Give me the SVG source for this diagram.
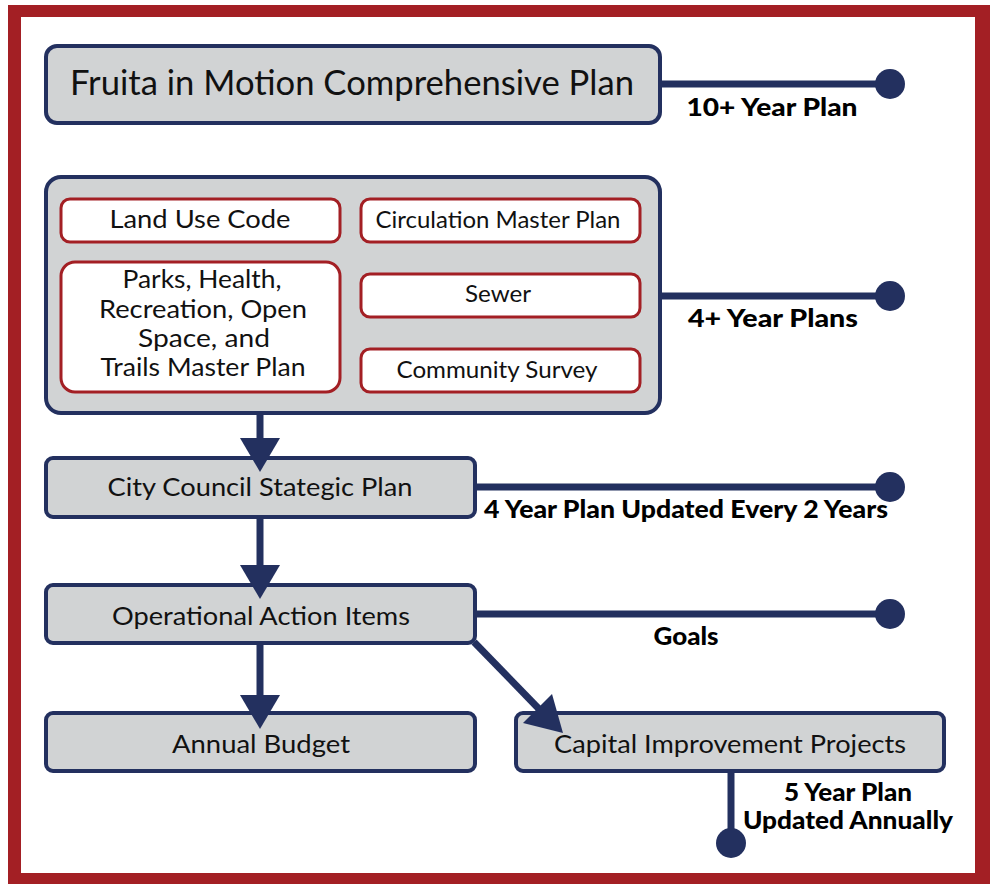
<svg xmlns="http://www.w3.org/2000/svg" width="993" height="884" viewBox="0 0 993 884">
<style>
.box{fill:#D1D3D4;stroke:#23305F;stroke-width:4}
.sub{fill:#FFFFFF;stroke:#A31F24;stroke-width:3}
.t{font-family:Lato,"Open Sans","Liberation Sans",sans-serif;fill:#111;text-anchor:middle}
.lbl{font-family:Lato,"Liberation Sans",sans-serif;font-weight:900;fill:#000;font-size:25px;text-anchor:middle}
.ln{stroke:#23305F;stroke-width:7;fill:none}
.dot{fill:#23305F}
.ah{fill:#23305F}
</style>
<rect x="0" y="0" width="993" height="884" fill="#FFFFFF"/>
<path d="M8 5H990V884H8Z M21 17V873H975V17Z" fill="#A31F24" fill-rule="evenodd"/>
<g id="comprehensive">
<rect class="box" x="46" y="46" width="614" height="77" rx="11"/>
<text class="t" x="352" y="95" font-size="35" textLength="564" lengthAdjust="spacingAndGlyphs">Fruita in Motion Comprehensive Plan</text>
</g>
<g id="plans4">
<rect class="box" x="46" y="177" width="614" height="236" rx="15"/>
</g>
<g id="landuse">
<rect class="sub" x="61" y="199" width="279" height="43" rx="9"/>
<text class="t" x="200" y="228" font-size="25" textLength="181" lengthAdjust="spacingAndGlyphs">Land Use Code</text>
</g>
<g id="circulation">
<rect class="sub" x="361" y="199" width="279" height="43" rx="9"/>
<text class="t" x="498" y="228" font-size="23" textLength="245" lengthAdjust="spacingAndGlyphs">Circulation Master Plan</text>
</g>
<g id="parks">
<rect class="sub" x="61" y="262" width="279" height="130" rx="14"/>
<text class="t" x="202" y="288" font-size="25" textLength="159" lengthAdjust="spacingAndGlyphs">Parks, Health,</text>
<text class="t" x="203" y="318" font-size="25" textLength="208" lengthAdjust="spacingAndGlyphs">Recreation, Open</text>
<text class="t" x="204" y="347" font-size="25" textLength="132" lengthAdjust="spacingAndGlyphs">Space, and</text>
<text class="t" x="203" y="376" font-size="25" textLength="205" lengthAdjust="spacingAndGlyphs">Trails Master Plan</text>
</g>
<g id="sewer">
<rect class="sub" x="361" y="274" width="279" height="43" rx="9"/>
<text class="t" x="498" y="302" font-size="23" textLength="66" lengthAdjust="spacingAndGlyphs">Sewer</text>
</g>
<g id="survey">
<rect class="sub" x="361" y="349" width="279" height="43" rx="9"/>
<text class="t" x="497" y="378" font-size="23" textLength="201" lengthAdjust="spacingAndGlyphs">Community Survey</text>
</g>
<g id="council">
<rect class="box" x="46" y="458" width="429" height="59" rx="7"/>
<text class="t" x="260" y="496" font-size="25" textLength="305" lengthAdjust="spacingAndGlyphs">City Council Stategic Plan</text>
</g>
<g id="operational">
<rect class="box" x="46" y="585" width="429" height="58" rx="7"/>
<text class="t" x="261" y="625" font-size="25" textLength="298" lengthAdjust="spacingAndGlyphs">Operational Action Items</text>
</g>
<g id="budget">
<rect class="box" x="46" y="713" width="429" height="58" rx="7"/>
<text class="t" x="261" y="753" font-size="25" textLength="178" lengthAdjust="spacingAndGlyphs">Annual Budget</text>
</g>
<g id="cip">
<rect class="box" x="516" y="713" width="428" height="58" rx="7"/>
<text class="t" x="730" y="753" font-size="25" textLength="352" lengthAdjust="spacingAndGlyphs">Capital Improvement Projects</text>
</g>
<g id="connectors">
<line class="ln" x1="662" y1="84" x2="890" y2="84"/>
<circle class="dot" cx="890" cy="84" r="15"/>
<line class="ln" x1="662" y1="296" x2="890" y2="296"/>
<circle class="dot" cx="890" cy="296" r="15"/>
<line class="ln" x1="477" y1="487" x2="890" y2="487"/>
<circle class="dot" cx="890" cy="487" r="15"/>
<line class="ln" x1="477" y1="614" x2="890" y2="614"/>
<circle class="dot" cx="890" cy="614" r="15"/>
<line class="ln" x1="731" y1="773" x2="731" y2="845"/>
<circle class="dot" cx="731" cy="843" r="15"/>
<line class="ln" x1="260" y1="415" x2="260" y2="445"/>
<polygon class="ah" points="240,438 280,438 260,472"/>
<line class="ln" x1="260" y1="519" x2="260" y2="570"/>
<polygon class="ah" points="240,565 280,565 260,599"/>
<line class="ln" x1="260" y1="645" x2="260" y2="700"/>
<polygon class="ah" points="240,695 280,695 260,729"/>
<line class="ln" x1="474" y1="642" x2="540" y2="710"/>
<polygon class="ah" points="552,694 523,723 563,733"/>
</g>
<g id="labels">
<text class="lbl" x="772" y="116" textLength="171" lengthAdjust="spacingAndGlyphs">10+ Year Plan</text>
<text class="lbl" x="773" y="327" textLength="170" lengthAdjust="spacingAndGlyphs">4+ Year Plans</text>
<text class="lbl" x="686" y="518" textLength="404" lengthAdjust="spacingAndGlyphs">4 Year Plan Updated Every 2 Years</text>
<text class="lbl" x="686" y="645" textLength="65" lengthAdjust="spacingAndGlyphs">Goals</text>
<text class="lbl" x="848" y="801" font-size="23" textLength="128" lengthAdjust="spacingAndGlyphs">5 Year Plan</text>
<text class="lbl" x="848" y="829" font-size="23" textLength="210" lengthAdjust="spacingAndGlyphs">Updated Annually</text>
</g>
</svg>
